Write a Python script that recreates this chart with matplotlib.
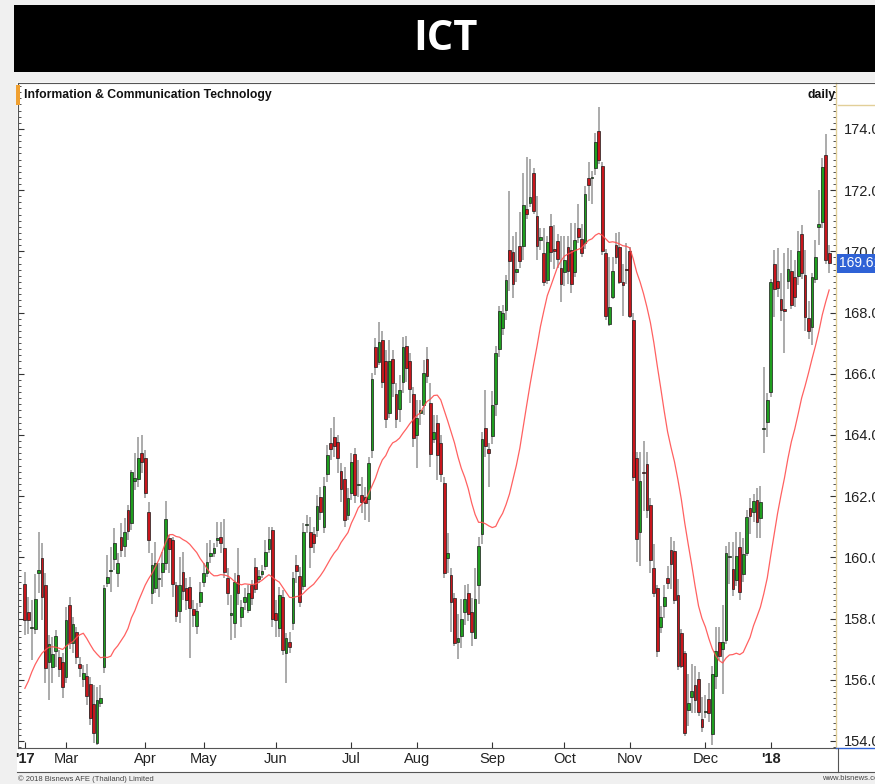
import numpy as np
import pandas as pd
import matplotlib
matplotlib.use('Agg')
import matplotlib.pyplot as plt
from matplotlib.patches import Rectangle
from matplotlib.lines import Line2D
from matplotlib.ticker import MultipleLocator, FormatStrFormatter
import matplotlib.transforms as mtrans

# ── data (daily OHLC) ─────────────────────────────────────────────────────
opens = [159.13, 158.21, 157.70, 157.67, 159.50, 159.97, 159.08, 156.59, 156.43, 156.95,
         156.73, 156.57, 156.08, 158.44, 157.19, 157.55, 156.51, 156.04, 156.11, 155.86,
         155.21, 153.92, 155.23, 156.43, 159.15, 159.55, 159.93, 159.50, 160.67, 160.37,
         161.55, 161.13, 162.50, 162.56, 163.40, 163.23, 161.47, 158.82, 158.99, 159.28,
         159.51, 159.80, 160.64, 160.56, 159.10, 158.26, 159.51, 158.99, 159.02, 158.30,
         157.75, 158.55, 159.20, 159.48, 160.04, 160.13, 160.56, 160.67, 160.29, 159.31,
         158.13, 157.86, 159.42, 158.06, 158.55, 158.28, 159.10, 159.67, 159.28, 159.45,
         159.72, 160.26, 160.89, 158.17, 157.68, 158.72, 156.86, 157.24, 157.84, 159.75,
         159.39, 159.06, 161.05, 160.82, 160.75, 160.89, 161.96, 161.00, 162.72, 163.73,
         163.92, 163.76, 162.83, 162.56, 161.38, 162.09, 163.38, 162.36, 162.04, 161.96,
         161.90, 163.51, 166.88, 166.39, 167.10, 166.42, 164.73, 166.47, 165.33, 164.84,
         165.74, 166.91, 166.42, 165.33, 164.00, 164.71, 164.98, 166.47, 165.05, 163.86,
         164.40, 163.73, 162.44, 159.97, 159.43, 158.67, 157.23, 157.42, 158.20, 158.82,
         158.20, 157.38, 159.10, 160.77, 164.24, 163.53, 163.96, 165.01, 166.80, 167.50,
         168.09, 170.05, 169.99, 169.34, 170.19, 170.19, 171.37, 171.57, 172.56, 171.16,
         170.36, 169.95, 169.06, 170.84, 170.08, 170.34, 169.44, 169.32, 170.14, 170.05,
         169.32, 170.75, 170.41, 170.27, 172.40, 172.38, 172.71, 173.93, 172.78, 169.96,
         167.63, 168.51, 170.21, 170.14, 168.99, 169.40, 170.00, 167.77, 163.23, 160.82,
         162.80, 163.05, 161.70, 159.64, 158.99, 157.71, 158.42, 159.34, 160.25, 160.21,
         158.76, 157.54, 156.86, 155.01, 155.44, 155.82, 156.01, 154.73, 154.95, 155.37,
         154.22, 156.12, 157.25, 156.99, 157.29, 160.00, 159.61, 159.26, 160.35, 159.46,
         160.14, 161.62, 161.49, 161.89, 161.27, 164.18, 164.42, 165.39, 169.59, 169.02,
         168.45, 168.10, 169.04, 169.37, 169.15, 169.20, 170.55, 169.24, 167.83, 167.53,
         169.11, 170.78, 170.95, 173.14, 169.96]
highs = [159.53, 158.70, 158.60, 159.45, 160.84, 160.46, 159.48, 157.46, 157.40, 157.62,
         156.97, 156.86, 158.39, 158.71, 158.06, 157.73, 156.75, 156.48, 156.53, 156.10,
         155.83, 155.77, 155.83, 159.10, 160.07, 160.35, 160.95, 160.13, 161.11, 161.27,
         161.71, 162.85, 163.40, 163.94, 164.00, 163.51, 161.82, 160.13, 160.51, 159.80,
         160.18, 161.84, 160.73, 160.67, 159.20, 160.02, 160.18, 159.31, 159.37, 158.60,
         158.50, 159.20, 159.80, 160.46, 160.56, 160.48, 161.16, 161.17, 161.24, 159.64,
         158.77, 159.48, 160.29, 158.60, 158.99, 159.10, 159.26, 159.97, 159.59, 159.75,
         160.57, 161.00, 161.00, 158.61, 159.04, 158.93, 157.52, 157.57, 159.53, 160.08,
         159.70, 161.11, 161.38, 161.33, 161.00, 162.04, 162.31, 162.64, 163.67, 164.22,
         164.60, 164.00, 163.07, 162.96, 162.26, 163.40, 163.56, 163.18, 162.64, 162.31,
         163.29, 166.01, 167.16, 167.70, 167.38, 166.78, 167.10, 166.78, 165.69, 165.96,
         167.21, 167.23, 166.67, 165.58, 165.14, 165.14, 166.45, 166.88, 165.69, 164.65,
         164.65, 164.00, 162.64, 160.78, 159.66, 158.84, 158.14, 158.63, 159.08, 159.14,
         158.67, 159.66, 160.65, 164.10, 165.47, 163.74, 165.44, 166.90, 168.20, 168.24,
         169.23, 171.97, 170.51, 170.63, 171.27, 172.56, 173.08, 173.02, 172.73, 171.80,
         170.75, 170.75, 170.51, 171.22, 170.86, 170.57, 170.51, 170.51, 170.51, 170.92,
         170.92, 171.56, 170.88, 172.13, 172.92, 172.64, 173.86, 174.70, 172.92, 170.07,
         169.83, 169.80, 170.61, 170.64, 169.60, 170.27, 170.14, 167.97, 163.43, 163.43,
         163.81, 163.43, 161.94, 160.45, 159.10, 158.42, 159.10, 159.71, 160.66, 160.52,
         159.30, 157.67, 156.93, 156.19, 156.52, 156.45, 156.25, 155.44, 155.51, 155.91,
         156.45, 157.74, 157.72, 158.43, 160.38, 160.51, 160.51, 160.84, 160.84, 160.64,
         161.56, 161.95, 162.08, 162.28, 162.34, 166.22, 165.36, 169.11, 170.03, 170.12,
         169.30, 169.96, 170.12, 170.03, 169.70, 170.68, 170.85, 170.03, 168.39, 169.30,
         170.36, 171.99, 173.05, 173.83, 170.22]
lows = [157.46, 157.50, 156.66, 157.50, 158.83, 157.95, 155.90, 155.34, 155.88, 156.43,
        156.10, 155.39, 155.88, 157.02, 156.86, 156.53, 156.10, 155.77, 155.17, 154.52,
        153.92, 153.87, 155.12, 156.23, 159.04, 158.88, 159.58, 159.04, 160.02, 160.02,
        160.56, 160.89, 162.20, 162.31, 162.74, 161.93, 160.13, 158.47, 158.82, 158.71,
        159.04, 159.58, 159.48, 158.71, 157.90, 157.84, 158.60, 158.28, 156.70, 157.73,
        157.50, 158.39, 159.04, 159.37, 159.80, 160.02, 160.35, 160.13, 159.31, 158.44,
        157.30, 157.35, 158.44, 157.73, 158.28, 158.17, 158.44, 158.82, 159.15, 159.31,
        159.59, 160.13, 157.73, 157.41, 157.41, 156.81, 155.88, 156.86, 157.63, 159.15,
        158.39, 158.93, 160.78, 159.64, 160.13, 160.68, 161.22, 160.78, 162.47, 163.18,
        163.29, 162.75, 161.82, 161.00, 161.22, 161.87, 161.77, 161.98, 161.44, 161.22,
        161.17, 163.24, 165.96, 166.29, 165.52, 164.22, 164.54, 165.25, 164.22, 164.43,
        165.36, 165.74, 165.03, 163.62, 162.91, 164.33, 164.65, 165.69, 162.96, 163.73,
        162.53, 162.47, 159.31, 159.48, 157.56, 157.09, 156.68, 157.03, 157.79, 157.91,
        157.09, 157.33, 158.49, 160.42, 163.28, 162.29, 163.69, 164.62, 166.55, 167.25,
        167.74, 168.71, 168.47, 169.00, 169.46, 169.70, 171.04, 171.45, 171.22, 169.70,
        170.05, 168.88, 168.94, 169.64, 169.41, 169.46, 168.36, 168.88, 168.94, 168.65,
        169.17, 170.28, 169.80, 170.07, 171.63, 171.56, 172.51, 172.85, 169.87, 167.77,
        167.56, 168.45, 169.60, 168.92, 167.90, 168.92, 167.83, 162.48, 159.84, 159.71,
        161.53, 161.27, 159.50, 158.69, 156.73, 157.54, 158.01, 158.96, 158.96, 158.49,
        156.32, 156.39, 154.15, 154.49, 154.90, 154.90, 154.83, 154.29, 154.76, 154.63,
        153.88, 155.71, 156.63, 155.52, 157.16, 159.13, 158.74, 159.06, 158.60, 159.19,
        160.05, 160.77, 161.16, 160.64, 160.64, 163.40, 163.92, 165.23, 167.86, 168.52,
        167.73, 166.68, 168.78, 168.12, 168.19, 168.91, 169.11, 167.40, 167.14, 166.94,
        168.98, 170.22, 170.75, 169.57, 169.30]
closes = [157.95, 157.95, 157.74, 158.63, 159.60, 158.69, 156.39, 157.17, 156.84, 157.43,
          156.34, 155.77, 157.95, 157.21, 157.82, 156.75, 156.39, 156.21, 155.48, 154.74,
          154.25, 155.34, 155.41, 159.01, 159.35, 159.58, 160.48, 159.80, 160.24, 160.84,
          160.86, 162.78, 162.60, 163.26, 163.10, 162.09, 160.57, 159.75, 159.83, 159.34,
          159.80, 161.25, 160.26, 159.13, 158.08, 159.10, 158.91, 158.60, 158.33, 158.11,
          158.25, 158.88, 159.48, 159.84, 160.15, 160.29, 160.62, 160.48, 159.53, 158.82,
          158.17, 159.20, 158.82, 158.39, 158.71, 158.82, 158.66, 158.96, 159.39, 159.55,
          160.16, 160.59, 157.97, 157.95, 158.77, 156.97, 157.35, 157.08, 159.31, 159.56,
          158.55, 160.84, 161.10, 160.35, 160.46, 161.69, 161.47, 162.33, 163.34, 163.53,
          163.64, 163.24, 162.22, 161.22, 161.93, 163.13, 162.04, 162.40, 161.82, 161.77,
          163.07, 165.83, 166.23, 167.03, 165.74, 164.51, 166.42, 165.69, 164.51, 165.47,
          166.88, 166.18, 165.49, 163.89, 164.54, 164.81, 166.04, 165.93, 163.38, 164.11,
          163.34, 162.72, 159.50, 160.15, 158.55, 157.21, 157.38, 158.00, 158.63, 158.14,
          157.56, 158.63, 160.38, 163.86, 163.63, 163.40, 164.97, 166.69, 168.04, 167.97,
          169.06, 169.67, 168.94, 169.42, 169.67, 171.51, 171.22, 171.76, 171.31, 170.16,
          170.46, 168.99, 170.30, 169.99, 170.02, 169.76, 168.94, 169.70, 169.35, 168.94,
          170.37, 170.46, 169.96, 171.86, 172.17, 172.44, 173.57, 172.98, 170.00, 167.88,
          168.17, 169.37, 169.83, 169.01, 168.89, 169.39, 167.90, 162.62, 160.61, 162.48,
          162.75, 161.56, 159.91, 158.83, 156.93, 158.04, 158.69, 159.17, 159.77, 158.62,
          156.45, 156.45, 154.25, 155.24, 155.64, 155.33, 154.96, 154.46, 154.97, 154.90,
          156.18, 156.93, 156.77, 157.23, 160.14, 160.05, 158.96, 160.05, 158.87, 160.11,
          161.32, 161.36, 161.85, 161.16, 161.82, 164.23, 165.13, 169.01, 168.78, 168.81,
          168.09, 168.06, 169.41, 168.25, 168.52, 170.01, 169.28, 167.86, 167.40, 169.15,
          169.80, 170.88, 172.74, 169.70, 169.61]

# 20-day average line; the first points come from data before the window
ma_head = [155.72, 155.95, 156.25, 156.50, 156.70, 156.87, 156.98, 157.06, 157.08, 157.06,
           157.03, 156.99, 157.10, 157.18, 157.25, 157.38, 157.47, 157.52, 157.35]
MA_LEN = 20

month_labels = ["'17", 'Mar', 'Apr', 'May', 'Jun', 'Jul', 'Aug', 'Sep', 'Oct', 'Nov', 'Dec', "'18"]
month_counts = [12, 23, 17, 21, 22, 19, 22, 21, 19, 22, 19, 18]

df = pd.DataFrame({'open': opens, 'high': highs, 'low': lows, 'close': closes})
ma = df['close'].rolling(MA_LEN).mean().values
ma[:len(ma_head)] = ma_head
idx = np.arange(len(df))
month_starts = np.concatenate([[0], np.cumsum(month_counts)[:-1]])

# ── layout helpers (pixel -> figure fraction) ─────────────────────────────
W, H = 875, 784
def fx(px): return px / W
def fy(py): return 1 - py / H

plt.rcParams['font.family'] = ['Liberation Sans', 'DejaVu Sans']

fig = plt.figure(figsize=(W / 100, H / 100), dpi=100, facecolor='#f0f0f0')

# black banner with title
fig.patches.append(Rectangle((fx(14), fy(72)), fx(875) - fx(14), fy(5) - fy(72),
                             transform=fig.transFigure, facecolor='black', zorder=-2))
fig.text(fx(446), fy(39), 'ICT', color='white', fontsize=30, fontweight='bold',
         ha='center', va='center', family=['Open Sans', 'DejaVu Sans'])

# white chart panel
fig.patches.append(Rectangle((fx(17), fy(772)), fx(875) - fx(17), fy(82) - fy(772),
                             transform=fig.transFigure, facecolor='white',
                             edgecolor='none', zorder=-2))

ax = fig.add_axes([fx(18), fy(748), fx(836) - fx(18), fy(83) - fy(748)])
ax.set_facecolor('white')

# candles
up = (df['close'] >= df['open']).values
body_lo = np.minimum(df['open'], df['close']).values
body_h = np.maximum(np.abs(df['close'] - df['open']), 0.04).values
ax.vlines(idx, df['low'], df['high'], color='#959595', linewidth=1.1, zorder=2)
ax.bar(idx[up], body_h[up], bottom=body_lo[up], width=0.8, color='#1f9e1f',
       edgecolor='#1a1a1a', linewidth=0.5, zorder=3)
ax.bar(idx[~up], body_h[~up], bottom=body_lo[~up], width=0.8, color='#c8161c',
       edgecolor='#1a1a1a', linewidth=0.5, zorder=3)

# moving average
ax.plot(idx, ma, color='#ff5050', linewidth=0.9, alpha=0.9, zorder=4)

ax.set_xlim(-2.0, len(df) + 1.0)
ax.set_ylim(153.77, 175.5)

# y axis on the right
ax.yaxis.tick_right()
ax.yaxis.set_major_locator(MultipleLocator(2))
ax.yaxis.set_minor_locator(MultipleLocator(0.2))
ax.yaxis.set_major_formatter(FormatStrFormatter('%.2f'))
ax.tick_params(axis='y', which='both', direction='in', left=True, right=True,
               labelleft=False, labelright=True, colors='#333333')
ax.tick_params(axis='y', which='major', length=4, labelsize=10.5, pad=6,
               labelcolor='#222222')
ax.tick_params(axis='y', which='minor', length=2)

ax.set_xticks(month_starts)
ax.set_xticklabels(month_labels)
ax.tick_params(axis='x', direction='in', length=4, labelsize=10.5, pad=3,
               colors='#333333', labelcolor='#222222')
for lab in ax.get_xticklabels():
    if lab.get_text().startswith("'"):
        lab.set_fontweight('bold')

for s in ['left', 'top', 'bottom']:
    ax.spines[s].set_color('#555555')
    ax.spines[s].set_linewidth(0.8)
ax.spines['right'].set_color('#e2cf98')
ax.spines['right'].set_linewidth(1.0)

# last price tag
last = df['close'].iloc[-1]
trans = mtrans.blended_transform_factory(ax.transAxes, ax.transData)
ax.text(1.004, last, f'{last:.2f}', transform=trans, color='white', fontsize=10,
        va='center', ha='left', clip_on=False, zorder=6,
        bbox=dict(boxstyle='square,pad=0.18', facecolor='#2f62d6', edgecolor='none'))

# header inside the chart panel
fig.patches.append(Rectangle((fx(16), fy(105)), fx(4), fy(85) - fy(105),
                             transform=fig.transFigure, facecolor='#f0a030',
                             edgecolor='none', zorder=5))
fig.text(fx(24), fy(95), 'Information & Communication Technology', fontsize=8.8,
         fontweight='bold', color='#111111', ha='left', va='center')
fig.text(fx(836), fy(95), 'daily', fontsize=8.8, fontweight='bold',
         color='#111111', ha='right', va='center')

# frame lines around label areas
fig.add_artist(Line2D([fx(836), fx(875)], [fy(83), fy(83)], color='#555555', lw=0.8))
fig.add_artist(Line2D([fx(838), fx(875)], [fy(105), fy(105)], color='#e2cf98', lw=1.0))
fig.add_artist(Line2D([fx(836), fx(875)], [fy(748), fy(748)], color='#2f62d6', lw=1.0))
fig.add_artist(Line2D([fx(17), fx(875)], [fy(772), fy(772)], color='#555555', lw=0.8))
fig.add_artist(Line2D([fx(838), fx(838)], [fy(748), fy(772)], color='#555555', lw=0.8))

fig.text(fx(18), fy(779), '\u00a9 2018 Bisnews AFE (Thailand) Limited', fontsize=5.5,
         color='#444444', ha='left', va='center')
fig.text(fx(822), fy(779), 'www.bisnews.com', fontsize=5.5, color='#444444',
         ha='left', va='center')

fig.savefig('out.png', dpi=100, facecolor=fig.get_facecolor())
